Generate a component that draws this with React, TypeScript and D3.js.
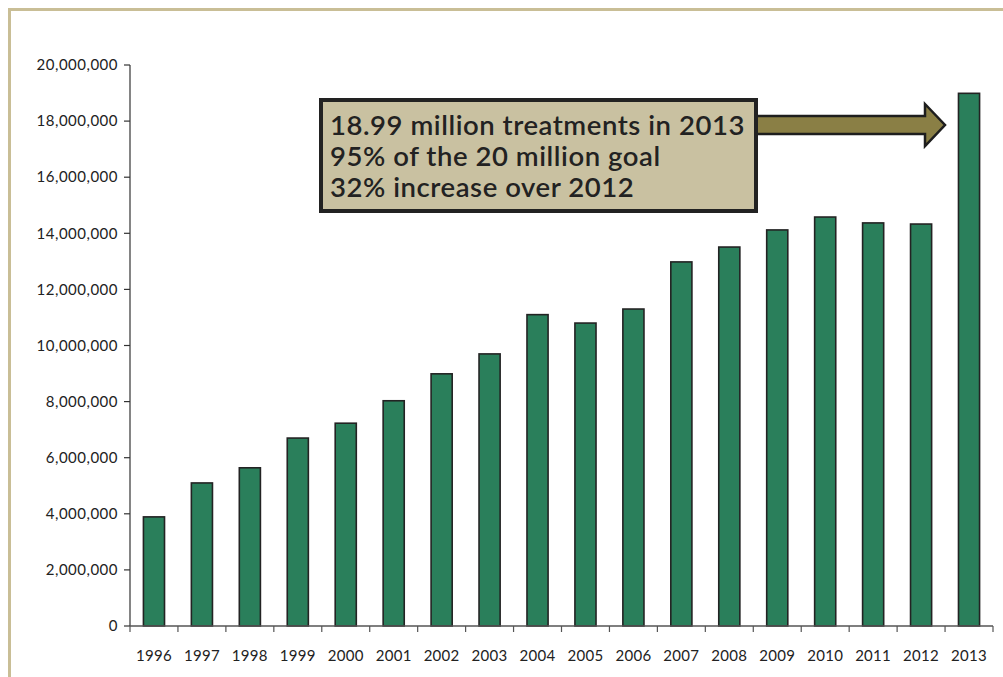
import React from "react";
import * as d3 from "d3";

const years = ["1996","1997","1998","1999","2000","2001","2002","2003","2004","2005","2006","2007","2008","2009","2010","2011","2012","2013"];
const treatments = [3890000,5100000,5640000,6700000,7230000,8030000,8990000,9700000,11100000,10800000,11300000,12980000,13510000,14120000,14580000,14370000,14330000,18990000];
const yTicks = [0,2000000,4000000,6000000,8000000,10000000,12000000,14000000,16000000,18000000,20000000];
const noteLines = ["18.99 million treatments in 2013","95% of the 20 million goal","32% increase over 2012"];

const W = 1003, H = 677;
const left = 130, right = 993, top = 65, bottom = 626;

export default function App() {
  const x = d3.scaleBand<string>().domain(years).range([left, right]).paddingInner(0).paddingOuter(0);
  const y = d3.scaleLinear().domain([0, 20000000]).range([bottom, top]);
  const fmt = d3.format(",");
  const bw = x.bandwidth() * 0.44;
  const font = "Lato, 'Open Sans', sans-serif";

  // arrow geometry
  const aY = 125;
  const aStart = 752, headStart = 925, tip = 945;
  const shaftH = 9, headH = 21;
  const arrowPath = `M${aStart},${aY - shaftH} L${headStart},${aY - shaftH} L${headStart},${aY - headH} L${tip},${aY} L${headStart},${aY + headH} L${headStart},${aY + shaftH} L${aStart},${aY + shaftH} Z`;

  return (
    <svg width={W} height={H} style={{ position: "absolute", left: 0, top: 0, background: "#fff" }}>
      <rect x={9.5} y={9.5} width={W + 20} height={H + 20} fill="none" stroke="#c9be96" strokeWidth={3} />
      {/* y axis */}
      <line x1={left} x2={left} y1={top} y2={bottom} stroke="#333" strokeWidth={1.2} />
      {yTicks.map(t => (
        <g key={t}>
          <line x1={left - 6} x2={left} y1={y(t)} y2={y(t)} stroke="#333" strokeWidth={1.2} />
          <text x={left - 12} y={y(t)} dy="0.35em" textAnchor="end" fontFamily={font} fontSize={15} letterSpacing={0.5} fill="#222">{fmt(t)}</text>
        </g>
      ))}
      {/* bars */}
      {years.map((yr, i) => (
        <rect key={yr} x={(x(yr) as number) + (x.bandwidth() - bw) / 2} y={y(treatments[i])} width={bw} height={bottom - y(treatments[i])}
          fill="#2a7f5b" stroke="#232323" strokeWidth={1.6} />
      ))}
      {/* x axis */}
      <line x1={left} x2={right} y1={bottom} y2={bottom} stroke="#555" strokeWidth={1.4} />
      {years.map(yr => (
        <line key={"t" + yr} x1={x(yr) as number} x2={x(yr) as number} y1={bottom} y2={bottom + 6} stroke="#555" strokeWidth={1.2} />
      ))}
      <line x1={right} x2={right} y1={bottom} y2={bottom + 6} stroke="#555" strokeWidth={1.2} />
      {years.map(yr => (
        <text key={"l" + yr} x={(x(yr) as number) + x.bandwidth() / 2} y={656} dy="0.35em" textAnchor="middle" fontFamily={font} fontSize={15} letterSpacing={0.3} fill="#222">{yr}</text>
      ))}
      {/* annotation */}
      <path d={arrowPath} fill="#8a7f45" stroke="#1e1e1e" strokeWidth={2.5} strokeLinejoin="miter" />
      <rect x={321} y={100} width={435} height={111} fill="#c9c1a1" stroke="#222" strokeWidth={4} />
      {noteLines.map((t, i) => (
        <text key={t} x={330} y={135 + i * 31} fontFamily={font} fontWeight={600} fontSize={27.5} letterSpacing={0.55} fill="#222">{t}</text>
      ))}
    </svg>
  );
}
